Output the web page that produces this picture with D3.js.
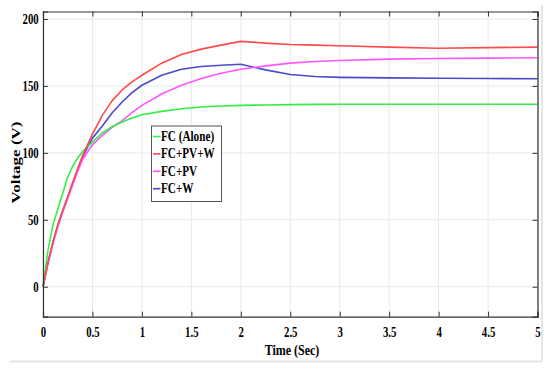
<!DOCTYPE html>
<html><head><meta charset="utf-8">
<script src="https://cdn.jsdelivr.net/npm/d3@7"></script>
<style>body{margin:0;background:#fff}svg{display:block}</style>
</head><body>
<script>
const time      = [0, 0.05, 0.1, 0.15, 0.2, 0.25, 0.3, 0.35, 0.4, 0.5, 0.6, 0.7, 0.8, 0.9, 1.0, 1.2, 1.4, 1.6, 1.8, 2.0, 2.25, 2.5, 2.75, 3.0, 3.5, 4.0, 4.5, 5.0];
const fcAlone   = [0, 27, 46, 58, 70, 82, 90, 96, 101, 108, 115, 119.5, 123, 126, 128.5, 131, 133, 134.3, 135, 135.5, 135.8, 136, 136.2, 136.3, 136.3, 136.3, 136.3, 136.3];
const fcPvW     = [0, 18, 33, 46, 57, 67, 78, 88, 98, 114, 128, 139, 147, 153, 158, 167, 173.5, 177.5, 180.5, 183.3, 182, 181, 180.5, 180, 179, 178.2, 178.6, 179];
const fcPv      = [0, 17, 32, 45, 56, 66, 76, 86, 95, 106, 113, 119, 124, 130, 135.5, 144, 150.5, 155.5, 159.5, 162.4, 165, 167, 168.2, 169, 170, 170.5, 170.8, 171];
const fcW       = [0, 18, 33, 46, 57, 67, 77, 87.5, 97, 111, 120, 130, 138, 145, 150.5, 158, 162.5, 164.5, 165.5, 166.2, 162, 158.5, 157, 156.4, 156, 155.7, 155.5, 155.4];
const seriesNames = ["FC (Alone)", "FC+PV+W", "FC+PV", "FC+W"];
const seriesColors = ["#33ee44", "#ff4a4a", "#ff55ff", "#4a4acc"];
const xTicks = [0, 0.5, 1, 1.5, 2, 2.5, 3, 3.5, 4, 4.5, 5];
const yTicks = [0, 50, 100, 150, 200];

const W = 550, H = 369;
const L = 43, R = 537.5, T = 11.5, B = 316.7;
const svg = d3.select("body").append("svg").attr("width", W).attr("height", H);

// faint figure frame
svg.append("line").attr("x1", 10).attr("x2", 542).attr("y1", 361.5).attr("y2", 361.5).attr("stroke", "#e6e6e6").attr("stroke-width", 2);
svg.append("line").attr("x1", 542).attr("x2", 542).attr("y1", 5).attr("y2", 361.5).attr("stroke", "#e6e6e6").attr("stroke-width", 2);

const x = d3.scaleLinear().domain([0, 5]).range([L, R]);
const y = d3.scaleLinear().domain([0, 200]).range([286.7, 19]);
const yMin = y.invert(B), yMax = y.invert(T);
y.domain([yMin, yMax]).range([B, T]);

// grid
const g = svg.append("g");
g.selectAll(".gx").data(xTicks).join("line")
  .attr("x1", d => x(d)).attr("x2", d => x(d)).attr("y1", T).attr("y2", B)
  .attr("stroke", "#e8e8e8").attr("stroke-width", 1);
g.selectAll(".gy").data(yTicks).join("line")
  .attr("x1", L).attr("x2", R).attr("y1", d => y(d)).attr("y2", d => y(d))
  .attr("stroke", "#e8e8e8").attr("stroke-width", 1);

// lines
const allSeries = [fcAlone, fcPvW, fcPv, fcW];
const line = d3.line().x((d, i) => x(time[i])).y(d => y(d)).curve(d3.curveLinear);
const drawOrder = [3, 2, 0, 1];
drawOrder.forEach(k => {
  svg.append("path").datum(allSeries[k]).attr("d", line)
    .attr("fill", "none").attr("stroke", seriesColors[k]).attr("stroke-width", 1.6)
    .attr("stroke-linejoin", "round");
});

const axisColor = "#333";
const fontFam = "'Liberation Serif','Times New Roman',serif";

// axes
const ax = svg.append("g").attr("transform", `translate(0,${B})`)
  .call(d3.axisBottom(x).tickValues(xTicks).tickSize(-5).tickPadding(10).tickFormat(d3.format("")));
const ay = svg.append("g").attr("transform", `translate(${L},0)`)
  .call(d3.axisLeft(y).tickValues(yTicks).tickSize(-5).tickPadding(6));
const at = svg.append("g").attr("transform", `translate(0,${T})`)
  .call(d3.axisTop(x).tickValues(xTicks).tickSize(-5).tickFormat(""));
const ar = svg.append("g").attr("transform", `translate(${R},0)`)
  .call(d3.axisRight(y).tickValues(yTicks).tickSize(-5).tickFormat(""));
[ax, ay, at, ar].forEach(a => {
  a.select(".domain").attr("stroke", axisColor).attr("stroke-width", 1.2);
  a.selectAll(".tick line").attr("stroke", axisColor);
  a.selectAll("text").attr("fill", "#000").attr("font-family", fontFam)
    .attr("font-weight", "bold").attr("font-size", 15).attr("transform", "scale(0.72,1)");
});

// axis titles
svg.append("text").attr("transform", "translate(292,355) scale(0.8,1)")
  .attr("text-anchor", "middle").attr("font-family", fontFam).attr("font-weight", "bold")
  .attr("font-size", 15).text("Time (Sec)");
svg.append("text").attr("transform", "translate(20,162.5) scale(0.72,1) rotate(-90)")
  .attr("text-anchor", "middle").attr("font-family", fontFam).attr("font-weight", "bold")
  .attr("font-size", 17).text("Voltage (V)");

// legend
const lg = svg.append("g");
lg.append("rect").attr("x", 151.5).attr("y", 126).attr("width", 70).attr("height", 75.5)
  .attr("fill", "#fff").attr("stroke", "#555").attr("stroke-width", 1);
seriesNames.forEach((n, i) => {
  const yy = 136.5 + i * 17.4;
  lg.append("line").attr("x1", 153).attr("x2", 160.5).attr("y1", yy).attr("y2", yy)
    .attr("stroke", seriesColors[i]).attr("stroke-width", 1.6);
  lg.append("text").attr("transform", `translate(161,${yy + 4.5}) scale(0.8,1)`)
    .attr("font-family", fontFam).attr("font-weight", "bold").attr("font-size", 14).text(n);
});
</script>
</body></html>
